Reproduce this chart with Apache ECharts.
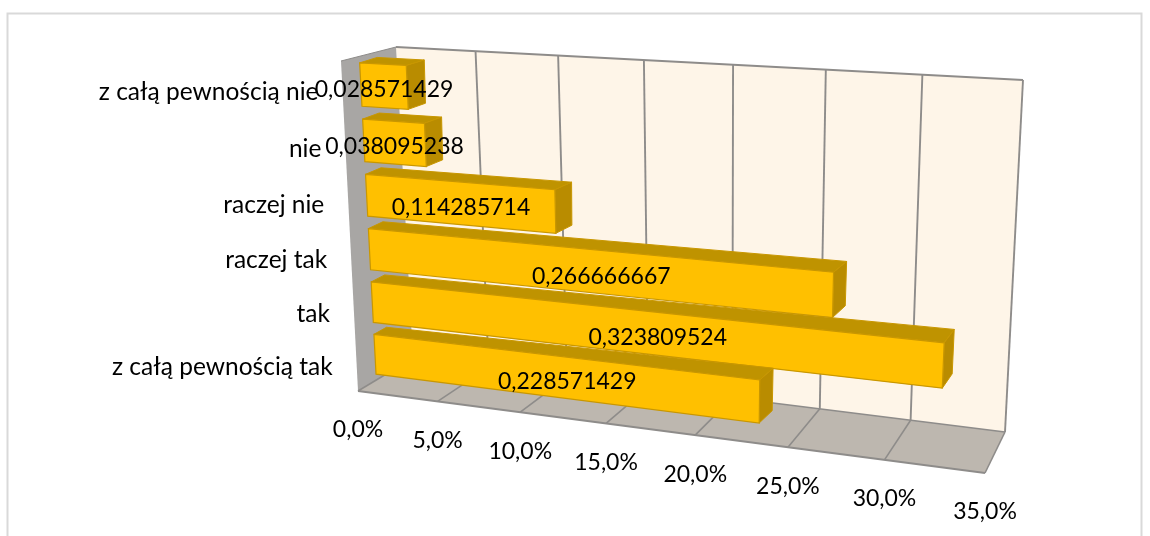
<!DOCTYPE html>
<html><head><meta charset="utf-8">
<style>html,body{margin:0;padding:0;background:#fff}#c{width:1150px;height:536px}</style>
<script src="https://cdn.jsdelivr.net/npm/echarts@6/dist/echarts.min.js"></script>
</head><body><div id="c"></div>
<script>
const categories = ['z całą pewnością nie','nie','raczej nie','raczej tak','tak','z całą pewnością tak'];
const values = [0.028571429,0.038095238,0.114285714,0.266666667,0.323809524,0.228571429];
const ticks = [0,0.05,0.1,0.15,0.2,0.25,0.3,0.35];

const FONT = 'Lato', FS = 23, FS_CAT = 24.5;
// projected corners of the 3D box: [TL, TR, BR, BL]
const BACK  = [[396,47],[1023,80],[1005,432],[413,358]];
const FRONT = [[341,61],[1004,97],[985,473],[358,391]];
const BAR_BACK = [[377,51],[1019,85],[1000,443],[388,373]];
const DEPTH0 = 1/3, BAR = 0.77;

function homography(q){
  const [[x0,y0],[x1,y1],[x2,y2],[x3,y3]] = q;
  const dx1=x1-x2, dx2=x3-x2, sx=x0-x1+x2-x3, dy1=y1-y2, dy2=y3-y2, sy=y0-y1+y2-y3;
  const den=dx1*dy2-dx2*dy1;
  const g=(sx*dy2-dx2*sy)/den, h=(dx1*sy-sx*dy1)/den;
  const a=x1-x0+g*x1,b=x3-x0+h*x3,c=x0,d=y1-y0+g*y1,e=y3-y0+h*y3,f=y0;
  return (u,v)=>{const w=g*u+h*v+1;return [(a*u+b*v+c)/w,(d*u+e*v+f)/w];};
}
const HB=homography(BACK), HF=homography(FRONT), HBB=homography(BAR_BACK);
// u,v normalized in the grid, d: 0 front .. 1 back
function P(u,v,d){const a=HF(u,v),b=HB(u,v);return [a[0]+(b[0]-a[0])*d,a[1]+(b[1]-a[1])*d];}
const poly=(pts,fill,stroke,lw)=>({type:'polygon',shape:{points:pts},style:{fill:fill,stroke:stroke||null,lineWidth:lw||0}});
const line=(a,b,c,lw)=>({type:'line',shape:{x1:a[0],y1:a[1],x2:b[0],y2:b[1]},style:{stroke:c,lineWidth:lw,fill:null}});
const txt=(x,y,t,al,fs)=>({type:'text',x:x,y:y,style:{text:t,font:(fs||FS)+'px '+FONT,fill:'#000',align:al||'center',verticalAlign:'middle'}});

const GRID={left:100,top:50,width:900,height:400};
const WALL='#FEF5E8',SIDE='#A8A6A4',FLOOR='#BDB7AF',GL='#8E8C8A';

function renderFrame(params,api){
  const cs=params.coordSys, els=[];
  const U=v=>(api.coord([v,0])[0]-cs.x)/cs.width;
  els.push(poly([P(0,0,1),P(1,0,1),P(1,1,1),P(0,1,1)],WALL));
  els.push(poly([P(0,0,0),P(0,0,1),P(0,1,1),P(0,1,0)],SIDE));
  els.push(poly([P(0,1,0),P(0,1,1),P(1,1,1),P(1,1,0)],FLOOR));
  ticks.forEach((t,i)=>{
    const u=U(t);
    if(i>0) els.push(line(P(u,0,1),P(u,1,1),GL,1.9));
    if(i>0) els.push(line(P(u,1,1),P(u,1,0),GL,1.6));
  });
  els.push(line(P(0,0,1),P(1,0,1),GL,2));
  els.push(line(P(0,1,0),P(1,1,0),GL,2));
  els.push(line(P(0,1,1),P(1,1,1),GL,1.5));
  els.push(line(P(0,0,0),P(0,0,1),GL,1));
  els.push(line(P(0,1,0),P(0,1,1),GL,1.5));
  return {type:'group',children:els};
}
function renderBar(params,api){
  const cs=params.coordSys;
  const v=api.value(1), c=api.coord([v,api.value(0)]), o=api.coord([0,api.value(0)]);
  const hb=api.size([0,1])[1]*BAR/2;
  const u0=(o[0]-cs.x)/cs.width,u1=(c[0]-cs.x)/cs.width;
  const v0=(c[1]-hb-cs.y)/cs.height,v1=(c[1]+hb-cs.y)/cs.height;
  const d0=DEPTH0;
  const TOPC='#BF9300',SIDEC='#B98C00',FR='#FFC000',EDGE='#C99700';
  return {type:'group',children:[
    poly([P(u0,v0,d0),P(u1,v0,d0),HBB(u1,v0),HBB(u0,v0)],TOPC,EDGE,1),
    poly([P(u1,v0,d0),HBB(u1,v0),HBB(u1,v1),P(u1,v1,d0)],SIDEC,EDGE,1),
    poly([P(u0,v0,d0),P(u1,v0,d0),P(u1,v1,d0),P(u0,v1,d0)],FR,EDGE,1.2)
  ]};
}
function renderLabels(params,api){
  const cs=params.coordSys, i=api.value(0), val=api.value(1);
  const c=api.coord([val,i]), o=api.coord([0,i]);
  const u0=(o[0]-cs.x)/cs.width,u1=(c[0]-cs.x)/cs.width,vm=(c[1]-cs.y)/cs.height;
  const a0=P(u0,vm,DEPTH0),a1=P(u1,vm,DEPTH0), l=P(0,vm,0);
  return {type:'group',children:[
    txt((a0[0]+a1[0])/2,(a0[1]+a1[1])/2+4,String(val).replace('.',',')),
    txt(l[0]-24,l[1]+2.5,categories[i],'right',FS_CAT)
  ]};
}
function renderTicks(params,api){
  const cs=params.coordSys, t=api.value(0);
  const u=(api.coord([t,0])[0]-cs.x)/cs.width, p=P(u,1,0);
  return txt(p[0],p[1]+39,(t*100).toFixed(1).replace('.',',')+'%');
}
const barData=values.map((v,i)=>[i,v]);
const chart=echarts.init(document.getElementById('c'),null,{renderer:'canvas'});
chart.setOption({
  animation:false,
  backgroundColor:'#fff',
  graphic:[{type:'rect',silent:true,shape:{x:7.5,y:13.5,width:1134,height:540},style:{fill:null,stroke:'#D9D9D9',lineWidth:2}}],
  grid:GRID,
  xAxis:{type:'value',min:0,max:0.35,interval:0.05,show:false},
  yAxis:{type:'category',data:categories,inverse:true,show:false},
  series:[
    {type:'custom',silent:true,clip:false,data:[[0]],encode:{x:0},renderItem:renderFrame,z:1},
    {type:'custom',silent:true,clip:false,data:barData,encode:{y:0,x:1},renderItem:renderBar,z:2},
    {type:'custom',silent:true,clip:false,data:barData,encode:{y:0,x:1},renderItem:renderLabels,z:3},
    {type:'custom',silent:true,clip:false,data:ticks.map(t=>[t]),encode:{x:0},renderItem:renderTicks,z:3}
  ]
});
</script></body></html>
